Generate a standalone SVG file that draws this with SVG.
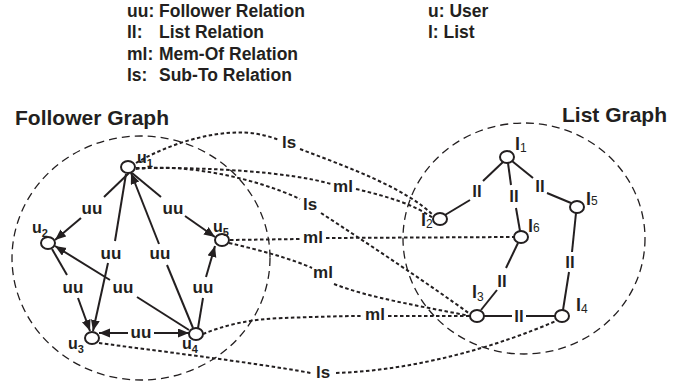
<svg xmlns="http://www.w3.org/2000/svg" width="693" height="388" viewBox="0 0 693 388">
<style>
text{font-family:"Liberation Sans",Arial,Helvetica,sans-serif;fill:#231f20;font-weight:bold}
.leg{font-size:17.5px}
.title{font-size:21px}
.el{font-size:17px;text-anchor:middle}
.ul{font-size:16px}
.ll{font-size:18px}
.sub{font-size:11px}
.subn{font-size:12px;font-weight:normal}
.region{fill:none;stroke:#231f20;stroke-width:1.3;stroke-dasharray:8 5}
.solid{fill:none;stroke:#231f20;stroke-width:2}
.dot{fill:none;stroke:#231f20;stroke-width:2;stroke-dasharray:3.5 2.5}
.node{fill:#fff;stroke:#231f20;stroke-width:2}
</style>
<defs>
<marker id="arr" markerUnits="userSpaceOnUse" markerWidth="12" markerHeight="10" refX="11" refY="4.5" orient="auto">
<path d="M0,0 L11,4.5 L0,9 z" fill="#231f20"/>
</marker>
</defs>
<rect width="693" height="388" fill="#fff"/>

<g id="legend">
<text class="leg" x="127" y="17">uu:</text><text class="leg" x="159" y="17">Follower Relation</text>
<text class="leg" x="127" y="38">ll:</text><text class="leg" x="159" y="38">List Relation</text>
<text class="leg" x="127" y="60">ml:</text><text class="leg" x="159" y="60">Mem-Of Relation</text>
<text class="leg" x="127" y="81">ls:</text><text class="leg" x="159" y="81">Sub-To Relation</text>
<text class="leg" x="428" y="17">u: User</text>
<text class="leg" x="428" y="38">l: List</text>
</g>

<g id="follower-graph">
<ellipse class="region" cx="141" cy="258" rx="129" ry="122"/>
<text class="title" x="15" y="125">Follower Graph</text>
</g>
<g id="list-graph">
<ellipse class="region" cx="524" cy="238.5" rx="121" ry="115.5"/>
<text class="title" x="562" y="122">List Graph</text>
</g>

<g id="connectors">
<!-- follower edges -->
<path class="solid" d="M129,173 L104,197"/><path class="solid" d="M81,218 L55,240" marker-end="url(#arr)"/>
<text class="el" x="92" y="214">uu</text>
<path class="solid" d="M132,173 L161,197"/><path class="solid" d="M185,216 L215,237" marker-end="url(#arr)"/>
<text class="el" x="173" y="214">uu</text>
<path class="solid" d="M126,174 L115,241"/><path class="solid" d="M108,263 L93,331" marker-end="url(#arr)"/>
<text class="el" x="111" y="259">uu</text>
<path class="solid" d="M193,328 L167,265"/><path class="solid" d="M159,244 L131,173" marker-end="url(#arr)"/>
<text class="el" x="160" y="259">uu</text>
<path class="solid" d="M52,249 L67,275"/><path class="solid" d="M78,298 L90,331" marker-end="url(#arr)"/>
<text class="el" x="73" y="293">uu</text>
<path class="solid" d="M189,330 L137,297"/><path class="solid" d="M110,280 L55,246" marker-end="url(#arr)"/>
<text class="el" x="123" y="293">uu</text>
<path class="solid" d="M198,328 L203,298"/><path class="solid" d="M206,277 L215,246" marker-end="url(#arr)"/>
<text class="el" x="203" y="293">uu</text>
<path class="solid" d="M128,333 L99,333" marker-end="url(#arr)"/><path class="solid" d="M154,333 L189,333" marker-end="url(#arr)"/>
<text class="el" x="141" y="338">uu</text>

<!-- list edges -->
<path class="solid" d="M503,162 L483,181"/><path class="solid" d="M470,200 L445,215"/>
<text class="el" x="477" y="197">ll</text>
<path class="solid" d="M508,163 L511,185"/><path class="solid" d="M516,208 L520,231"/>
<text class="el" x="514" y="202">ll</text>
<path class="solid" d="M512,161 L533,178"/><path class="solid" d="M547,193 L571,203"/>
<text class="el" x="540" y="192">ll</text>
<path class="solid" d="M576,213 L572,252"/><path class="solid" d="M569,272 L563,310"/>
<text class="el" x="570" y="268">ll</text>
<path class="solid" d="M518,243 L506,268"/><path class="solid" d="M497,290 L481,310"/>
<text class="el" x="502" y="287">ll</text>
<path class="solid" d="M484,316 L512,316"/><path class="solid" d="M526,316 L555,316"/>
<text class="el" x="519" y="322">ll</text>

<!-- cross-graph dotted edges -->
<path class="dot" d="M136,163 C175,140 225,128 258,134 C268,136 274,138 279,140"/>
<path class="dot" d="M300,149 C350,168 405,188 433,215"/>
<text class="el" x="289" y="148">ls</text>
<path class="dot" d="M136,168 C210,167 290,172 331,184"/>
<path class="dot" d="M356,189 C390,197 415,205 433,218"/>
<text class="el" x="343" y="192">ml</text>
<path class="dot" d="M136,169 C185,163 255,178 300,199"/>
<path class="dot" d="M321,213 C370,245 430,285 470,314"/>
<text class="el" x="310" y="210">ls</text>
<path class="dot" d="M230,240 L302,239"/>
<path class="dot" d="M326,238 L514,237"/>
<text class="el" x="313" y="243">ml</text>
<path class="dot" d="M229,243 C260,250 295,260 312,268"/>
<path class="dot" d="M334,284 C370,298 420,306 470,316"/>
<text class="el" x="323" y="278">ml</text>
<path class="dot" d="M203,334 C225,325 250,319 283,318 C310,317 340,316 363,316"/>
<path class="dot" d="M388,316 L470,316"/>
<text class="el" x="375" y="320">ml</text>
<path class="dot" d="M99,343 C150,350 250,362 311,373"/>
<path class="dot" d="M336,373 C420,370 500,345 556,321"/>
<text class="el" x="323" y="378">ls</text>
</g>

<g id="u1"><ellipse class="node" cx="128" cy="167" rx="7" ry="6"/><text class="ul" x="137" y="163">u<tspan class="sub" dy="4">1</tspan></text></g>
<g id="u2"><ellipse class="node" cx="48" cy="243" rx="7" ry="6"/><text class="ul" x="32" y="233">u<tspan class="sub" dy="4">2</tspan></text></g>
<g id="u5"><ellipse class="node" cx="222" cy="240" rx="7" ry="6"/><text class="ul" x="213" y="232">u<tspan class="sub" dy="4">5</tspan></text></g>
<g id="u3"><ellipse class="node" cx="92" cy="338" rx="7" ry="6"/><text class="ul" x="68" y="349">u<tspan class="sub" dy="4">3</tspan></text></g>
<g id="u4"><ellipse class="node" cx="196" cy="334" rx="7" ry="6"/><text class="ul" x="182" y="349">u<tspan class="sub" dy="4">4</tspan></text></g>

<g id="l1"><ellipse class="node" cx="507" cy="157" rx="7" ry="6"/><text class="ll" x="515" y="150">l<tspan class="subn" dy="2">1</tspan></text></g>
<g id="l2"><ellipse class="node" cx="440" cy="219" rx="7" ry="6"/><text class="ll" x="421" y="226">l<tspan class="subn" dy="2">2</tspan></text></g>
<g id="l5"><ellipse class="node" cx="577" cy="207" rx="7" ry="6"/><text class="ll" x="586" y="205">l<tspan class="subn" dy="0">5</tspan></text></g>
<g id="l6"><ellipse class="node" cx="521" cy="237" rx="7" ry="6"/><text class="ll" x="528" y="232">l<tspan class="subn" dy="0">6</tspan></text></g>
<g id="l3"><ellipse class="node" cx="477" cy="316" rx="7" ry="6"/><text class="ll" x="472" y="298">l<tspan class="subn" dy="3">3</tspan></text></g>
<g id="l4"><ellipse class="node" cx="562" cy="316" rx="7" ry="6"/><text class="ll" x="576" y="311">l<tspan class="subn" dy="2">4</tspan></text></g>
</svg>
